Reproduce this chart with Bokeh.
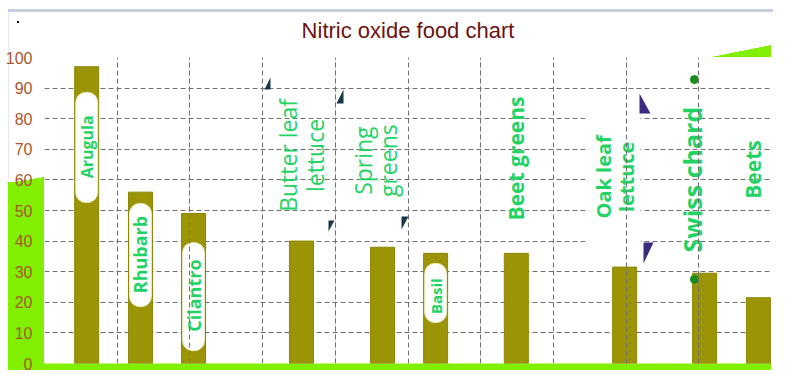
import math
from bokeh.plotting import figure
from bokeh.models import Range1d, FixedTicker, Grid, ColumnDataSource
from bokeh.core.properties import value
from bokeh.embed import file_html
from bokeh.resources import INLINE

# ---------------- data ----------------
foods = ["Arugula", "Rhubarb", "Cilantro", "Butter leaf lettuce", "Spring greens",
         "Basil", "Beet greens", "Oak leaf lettuce", "Swiss chard", "Beets"]
nitric_oxide = [97, 56, 49, 40, 38, 36, 36, 31.5, 29.5, 21.5]
bar_x = [0.58, 1.32, 2.05, 3.535, 4.65, 5.38, 6.49, 7.98, 9.08, 9.82]
y_ticks = list(range(0, 101, 10))
x_grid = list(range(0, 11))

# labels inside white pills (on bars)
pill_text = ["Arugula", "Rhubarb", "Cilantro", "Basil"]
pill_idx = [0, 1, 2, 5]
pill_mid = [70.8, 35.6, 22.2, 22.0]
pill_lo = [52.6, 18.6, 4.2, 13.4]
pill_hi = [88.6, 52.3, 39.5, 32.7]
pill_size = ["16px", "18px", "18px", "15px"]

# free floating labels
free_text = ["Butter leaf\nlettuce", "Spring\ngreens", "Beet greens",
             "Oak leaf\nlettuce", "Swiss chard", "Beets"]
free_x = [3.535, 4.55, 6.48, 7.85, 8.90, 9.75]
free_y = [68.0, 66.3, 67.0, 61.0, 60.1, 63.4]
free_size = ["23px", "23px", "21px", "20px", "25px", "21px"]
free_style = ["normal", "normal", "bold", "bold", "bold", "bold"]
free_lh = [0.82, 0.78, 1.0, 0.84, 1.0, 1.0]

# white boxes behind free labels (hide horizontal grid only)
box_l = [3.01, 4.02, 6.27, 9.53]
box_r = [4.00, 5.00, 6.75, 9.75]
box_b = [42.8, 43.5, 38.6, 45.0]
box_t = [93.5, 89.9, 92.5, 88.6]
# white box behind "Oak leaf lettuce" (hides vertical grid too)
oak_box = dict(left=[7.44], right=[8.20], bottom=[33.0], top=[88.6])

# green dots near Swiss chard
dot_x = [8.94, 8.94]
dot_y = [92.8, 27.5]

BAR = "#9b9407"
TXT = "#22d364"
LIME = "#80f000"

W, H = 790, 375
p = figure(width=W, height=H, output_backend="svg", toolbar_location=None,
           x_range=Range1d(0, 10), y_range=Range1d(0, 100),
           x_axis_location=None, min_border_left=44, min_border_right=19,
           min_border_top=57, min_border_bottom=12)
p.outline_line_color = None
p.background_fill_color = "white"
p.border_fill_alpha = 0

# background decorations drawn by CSS behind the transparent border
layers = [
    # (color-or-gradient, w, h, x, y)
    (f"linear-gradient(to top left,{LIME} 50%,transparent 50%)", 36, 6, 8, 177),
    (f"linear-gradient({LIME},{LIME})", 36, 188, 8, 182),        # left green
    (f"linear-gradient({LIME},{LIME})", 763, 7, 8, 363),         # bottom strip
    (f"linear-gradient(to top left,{LIME} 50%,transparent 50%)", 59, 12, 712, 45),
    ("linear-gradient(#c6cede,#c6cede)", 765, 3, 8, 9),          # top rule
    ("linear-gradient(#e3e7ee,#e3e7ee)", 1, 166, 8, 12),         # faint left rule
    ("linear-gradient(#000,#000)", 2, 2, 17, 21),                # small dot
]
p.styles = {
    "background-color": "white",
    "background-image": ",".join(l[0] for l in layers),
    "background-size": ",".join(f"{l[1]}px {l[2]}px" for l in layers),
    "background-position": ",".join(f"{l[3]}px {l[4]}px" for l in layers),
    "background-repeat": "no-repeat",
}

# title
p.title.text = "Nitric oxide food chart"
p.title.align = "center"
p.title.text_font = "Liberation Sans"
p.title.text_font_size = "22px"
p.title.text_font_style = "normal"
p.title.text_color = "#6b1212"
p.title.standoff = 30

# y axis
ya = p.yaxis[0]
ya.ticker = FixedTicker(ticks=y_ticks)
ya.axis_line_color = None
ya.major_tick_line_color = None
ya.minor_tick_line_color = None
ya.major_label_text_font = "Liberation Sans"
ya.major_label_text_font_size = "16px"
ya.major_label_text_color = "#a9562c"
ya.major_label_standoff = 6

p.ygrid.grid_line_color = "#707070"
p.ygrid.grid_line_dash = "5 3"
p.ygrid.grid_line_width = 1
p.ygrid.ticker = FixedTicker(ticks=y_ticks)

# white boxes hiding horizontal grid behind labels
p.quad(left=box_l, right=box_r, bottom=box_b, top=box_t, fill_color="white",
       line_color=None, level="underlay")

# vertical grid on top of boxes
vg = Grid(dimension=0, ticker=FixedTicker(ticks=x_grid), grid_line_color="#707070",
          grid_line_dash="5 3", grid_line_width=1, level="glyph")
p.add_layout(vg)

p.quad(**oak_box, fill_color="white", line_color=None)

# small corner triangles (given in reference pixel positions, mapped to data)
def dx(px):
    return (px - 44) / 72.7

def dy(py):
    return (363 - py) / 3.06

tri = [
    ([264, 270, 270], [89, 89, 77], "#17394a"),
    ([328, 334, 328], [220, 220, 231], "#17394a"),
    ([336, 343, 343], [103, 103, 89], "#17394a"),
    ([401, 408, 401], [216, 216, 229], "#17394a"),
    ([639, 639, 650], [93, 113, 113], "#3b2a80"),
    ([643, 653, 643], [242, 242, 263], "#3b2a80"),
]
p.patches(xs=[[dx(v) for v in t[0]] for t in tri], ys=[[dy(v) for v in t[1]] for t in tri],
          fill_color=[t[2] for t in tri], line_color=None)

# bars
src = ColumnDataSource(dict(x=bar_x, top=nitric_oxide, food=foods))
p.vbar(x="x", top="top", bottom=0, width=0.33, source=src,
       fill_color=BAR, line_color="#8d8605", line_width=1)

# pills
px_ = [bar_x[i] for i in pill_idx]
p.quad(left=[x - 0.15 for x in px_], right=[x + 0.15 for x in px_],
       bottom=pill_lo, top=pill_hi, fill_color="white", line_color="#eeeec0",
       line_width=1, border_radius=10)
for t, x, y, s in zip(pill_text, px_, pill_mid, pill_size):
    p.text(x=[x], y=[y], text=[t], angle=math.pi / 2, text_align="center",
           text_baseline="middle", text_color=TXT, text_font=value("Open Sans"),
           text_font_style="bold", text_font_size=s)

for t, x, y, s, st, lh in zip(free_text, free_x, free_y, free_size, free_style, free_lh):
    p.text(x=[x], y=[y], text=[t], angle=math.pi / 2, text_align="center",
           text_baseline="middle", text_color=TXT, text_font=value("Open Sans"),
           text_font_style=st, text_font_size=s, text_line_height=lh)

p.scatter(x=dot_x, y=dot_y, size=8, color="#1a8c1a")

open("out.html", "w").write(file_html(p, INLINE))
